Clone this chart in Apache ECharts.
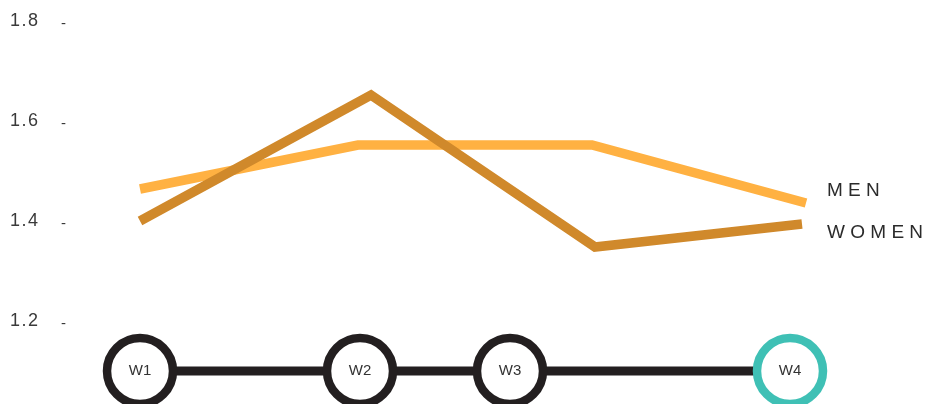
<!DOCTYPE html>
<html>
<head>
<meta charset="utf-8">
<script src="https://cdn.jsdelivr.net/npm/echarts@6/dist/echarts.min.js"></script>
<style>
html,body{margin:0;padding:0;background:#fff;}
#chart{width:927px;height:404px;}
</style>
</head>
<body>
<div id="chart"></div>
<script>
// Data
const weekLabels = ['W1', 'W2', 'W3', 'W4'];
const weekDays = [0, 22, 37, 65];
const menDays = [0, 21.8, 45.2, 66.6];
const menValues = [1.464, 1.552, 1.552, 1.436];
const womenDays = [0, 23.1, 45.5, 66.2];
const womenValues = [1.40, 1.652, 1.348, 1.394];
const seriesNames = ['MEN', 'WOMEN'];
const yTicks = [1.2, 1.4, 1.6, 1.8];
const timelineLevel = 1.1;

const FONT = '"Liberation Sans", Arial, Helvetica, sans-serif';
const chart = echarts.init(document.getElementById('chart'), null, {renderer: 'canvas'});

const spaced = s => s.split('').join(' ');

const option = {
  animation: false,
  backgroundColor: '#ffffff',
  grid: {left: 140, right: 87, top: 21, bottom: 33},
  xAxis: {
    type: 'value', min: 0, max: 70, show: false
  },
  yAxis: {
    type: 'value', min: 1.1, max: 1.8, interval: 0.1,
    axisLine: {show: false}, axisTick: {show: false}, splitLine: {show: false},
    axisLabel: {
      align: 'left', margin: 130,
      formatter: function (v) {
        const r = Math.round(v * 10) / 10;
        if (!yTicks.some(t => Math.abs(t - r) < 1e-6)) return '';
        return '{v|' + r.toFixed(1).split('').join('\u200A') + '}{d|-}';
      },
      rich: {
        v: {fontFamily: FONT, fontSize: 18, color: '#3a3a3a', width: 51},
        d: {fontFamily: FONT, fontSize: 15, color: '#3a3a3a', padding: [5, 0, 0, 0]}
      }
    }
  },
  series: [
    {
      name: seriesNames[0], type: 'line',
      data: menDays.map((d, i) => [d, menValues[i]]),
      showSymbol: false, symbol: 'none',
      lineStyle: {color: '#FFB142', width: 9.5, cap: 'butt', join: 'miter'},
      endLabel: {
        show: true, formatter: spaced(seriesNames[0]), distance: 0, offset: [21, -12],
        fontFamily: FONT, fontSize: 19, color: '#2b2b2b'
      },
      z: 3
    },
    {
      name: seriesNames[1], type: 'line',
      data: womenDays.map((d, i) => [d, womenValues[i]]),
      showSymbol: false, symbol: 'none',
      lineStyle: {color: '#D0892B', width: 9.5, cap: 'butt', join: 'miter'},
      endLabel: {
        show: true, formatter: spaced(seriesNames[1]), distance: 0, offset: [25, 9],
        fontFamily: FONT, fontSize: 19, color: '#2b2b2b'
      },
      z: 4
    },
    {
      name: 'timeline', type: 'line', clip: false,
      data: weekDays.map((d, i) => ({
        value: [d, timelineLevel],
        name: weekLabels[i],
        itemStyle: i === 3 ? {borderColor: '#3FC0B5'} : undefined
      })),
      symbol: 'circle', symbolSize: 66, showSymbol: true,
      lineStyle: {color: '#231F20', width: 9},
      itemStyle: {color: '#ffffff', borderColor: '#231F20', borderWidth: 8.5, opacity: 1},
      label: {
        show: true, position: 'inside', formatter: p => p.name,
        fontFamily: FONT, fontSize: 15, color: '#333333'
      },
      emphasis: {disabled: true},
      z: 5
    }
  ]
};
chart.setOption(option);
</script>
</body>
</html>
